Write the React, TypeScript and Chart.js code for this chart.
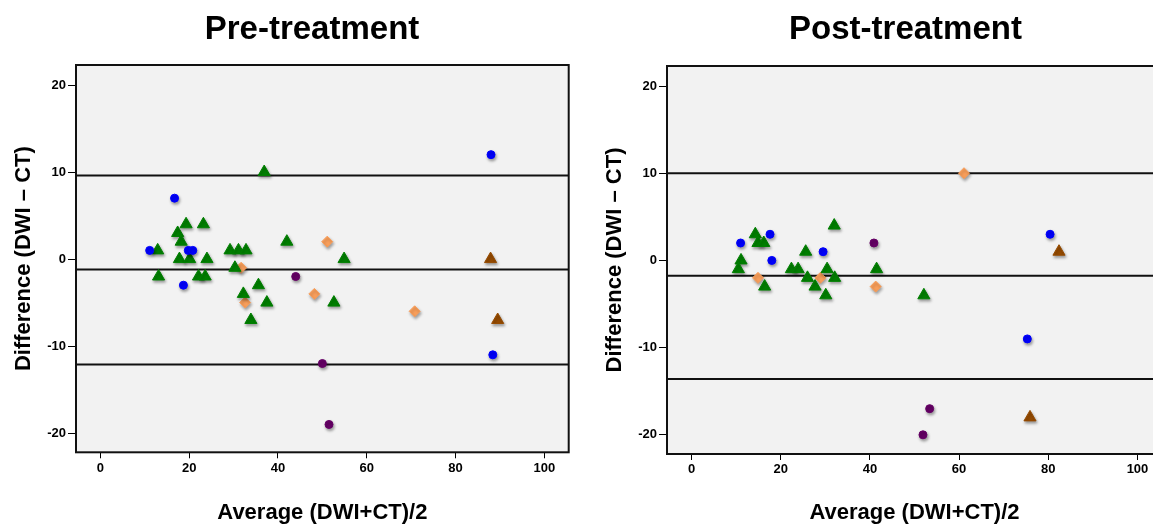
import React, { useEffect, useRef } from 'react';
import { Chart, registerables } from 'chart.js';

Chart.register(...registerables);

// ---------- axis ticks ----------
const xTicks = [0, 20, 40, 60, 80, 100];
const yTicks = [-20, -10, 0, 10, 20];
const xRange = [-5.5, 105.5];
const yRange = [-22.2, 22.3];

// ---------- Pre-treatment: [average, difference] ----------
const preBlue: number[][] = [[11.1, 1], [16.7, 7], [19.8, 1], [20.8, 1], [18.7, -3], [88, 12], [88.4, -11]];
const preGreen: number[][] = [
  [12.9, 1], [13.1, -2], [17.4, 3], [18.2, 2], [19.3, 4], [17.8, 0], [20.1, 0], [23.2, 4],
  [24.0, 0], [22.1, -2], [23.6, -2], [29.2, 1], [31.1, 1], [32.8, 1], [30.3, -1], [32.2, -4],
  [35.6, -3], [33.9, -7], [37.5, -5], [36.9, 10], [42, 2], [54.9, 0], [52.6, -5],
];
const preOrange: number[][] = [[31.7, -1], [32.6, -5], [48.2, -4], [51.1, 2], [70.8, -6]];
const prePurple: number[][] = [[44, -2], [50, -12], [51.5, -19]];
const preBrown: number[][] = [[87.9, 0], [89.5, -7]];
const preLimits = [9.6, -1.2, -12.1];

// ---------- Post-treatment ----------
const postBlue: number[][] = [[11.0, 2], [17.6, 3], [18.0, 0], [29.5, 1], [80.4, 3], [75.3, -9]];
const postGreen: number[][] = [
  [14.3, 3], [14.9, 2], [16.2, 2], [11.1, 0], [10.5, -1], [16.4, -3], [25.6, 1], [32.0, 4],
  [22.4, -1], [23.9, -1], [26.0, -2], [30.4, -1], [32.1, -2], [27.7, -3], [30.1, -4], [41.5, -1],
  [52.1, -4],
];
const postOrange: number[][] = [[14.9, -2], [28.9, -2], [41.3, -3], [61.1, 10]];
const postPurple: number[][] = [[40.9, 2], [53.4, -17], [51.9, -20]];
const postBrown: number[][] = [[82.4, 1], [75.9, -18]];
const postLimits = [10.0, -1.75, -13.6];

const FONT = "'Liberation Sans', Arial, Helvetica, sans-serif";

type Group = { pts: number[][]; color: string; style: string; radius: number };

const framePlugin = {
  id: 'frame',
  beforeDraw(chart: any) {
    const { ctx, chartArea: a } = chart;
    ctx.save();
    ctx.fillStyle = '#f2f2f2';
    ctx.fillRect(a.left, a.top, a.right - a.left, a.bottom - a.top);
    ctx.restore();
  },
  beforeDatasetDraw(chart: any, args: any) {
    const ds = chart.data.datasets[args.index];
    if (ds.showLine) return;
    const ctx = chart.ctx;
    ctx.save();
    ctx.shadowColor = 'rgba(0,0,0,0.35)';
    ctx.shadowBlur = 3;
    ctx.shadowOffsetX = 1;
    ctx.shadowOffsetY = 2;
  },
  afterDatasetDraw(chart: any, args: any) {
    const ds = chart.data.datasets[args.index];
    if (ds.showLine) return;
    chart.ctx.restore();
  },
  afterDatasetsDraw(chart: any) {
    const { ctx, chartArea: a } = chart;
    ctx.save();
    ctx.strokeStyle = '#111';
    ctx.lineWidth = 2;
    ctx.strokeRect(a.left, a.top, a.right - a.left, a.bottom - a.top);
    ctx.restore();
  },
};

function Panel(props: {
  title: string;
  left: number;
  width: number;
  padRight: number;
  chartTop: number;
  chartBottom: number;
  groups: Group[];
  limits: number[];
}) {
  const ref = useRef<HTMLCanvasElement>(null);
  useEffect(() => {
    const { title, padRight, chartTop, chartBottom, groups, limits } = props;
    const H = 524;
    const titleSize = 33;
    const titlePadTop = 10;
    const datasets: any[] = groups.map((g) => ({
      data: g.pts.map((p) => ({ x: p[0], y: p[1] })),
      backgroundColor: g.color,
      borderColor: g.color,
      pointStyle: g.style,
      pointRadius: g.radius,
      pointBorderWidth: 1,
      order: 0,
    }));
    limits.forEach((v) => {
      datasets.push({
        data: [{ x: xRange[0], y: v }, { x: xRange[1], y: v }],
        showLine: true,
        borderColor: '#111',
        borderWidth: 2,
        pointRadius: 0,
        order: 10,
      });
    });
    const chart = new Chart(ref.current as HTMLCanvasElement, {
      type: 'scatter',
      data: { datasets },
      plugins: [framePlugin],
      options: {
        animation: false,
        responsive: false,
        devicePixelRatio: 1,
        events: [],
        layout: { padding: { left: 0, right: 0, top: 0, bottom: 0 } },
        plugins: {
          legend: { display: false },
          tooltip: { enabled: false },
          title: {
            display: true,
            text: title,
            color: '#000',
            fullSize: true,
            font: { family: FONT, size: titleSize, weight: 'bold', lineHeight: 1.2 },
            padding: { top: titlePadTop, bottom: chartTop - titlePadTop - titleSize * 1.2 },
          },
        },
        scales: {
          x: {
            type: 'linear',
            min: xRange[0],
            max: xRange[1],
            border: { display: false },
            grid: { display: true, drawOnChartArea: false, drawTicks: true, tickLength: 6, color: '#000', tickWidth: 1 },
            ticks: { color: '#000', font: { family: FONT, size: 13, weight: 'bold' }, padding: 2, maxRotation: 0 },
            afterBuildTicks: (s: any) => { s.ticks = xTicks.map((v) => ({ value: v })); },
            afterFit: (s: any) => { s.height = H - chartBottom; },
            title: {
              display: true,
              text: 'Average (DWI+CT)/2',
              color: '#000',
              font: { family: FONT, size: 22, weight: 'bold', lineHeight: 1.2 },
              padding: { top: 0, bottom: -2 },
            },
          },
          y: {
            type: 'linear',
            min: yRange[0],
            max: yRange[1],
            border: { display: false },
            grid: { display: true, drawOnChartArea: false, drawTicks: true, tickLength: 8, color: '#000', tickWidth: 1 },
            ticks: { color: '#000', font: { family: FONT, size: 13, weight: 'bold' }, padding: 2 },
            afterBuildTicks: (s: any) => { s.ticks = yTicks.map((v) => ({ value: v })); },
            afterFit: (s: any) => { s.width = 76; },
            title: {
              display: true,
              text: 'Difference (DWI \u2013 CT)',
              color: '#000',
              font: { family: FONT, size: 22, weight: 'bold', lineHeight: 1.2 },
              padding: { top: 11, bottom: 0 },
            },
          },
          // empty spacer on the right so the full-width title centres like the original
          spacer: {
            type: 'linear',
            position: 'right',
            display: true,
            border: { display: false },
            grid: { display: false },
            ticks: { display: false },
            afterFit: (s: any) => { s.width = padRight; },
          },
        },
      } as any,
    });
    return () => chart.destroy();
  }, []);
  return (
    <div style={{ position: 'absolute', left: props.left, top: 0, width: props.width, height: 524 }}>
      <canvas ref={ref} width={props.width} height={524} style={{ display: 'block' }} />
    </div>
  );
}

const BLUE = '#0000ff';
const GREEN = '#008000';
const ORANGE = '#f99f5b';
const PURPLE = '#660066';
const BROWN = '#964b00';

export default function App() {
  const preGroups: Group[] = [
    { pts: preBlue, color: BLUE, style: 'circle', radius: 4 },
    { pts: preGreen, color: GREEN, style: 'triangle', radius: 7 },
    { pts: preOrange, color: ORANGE, style: 'rectRot', radius: 5.5 },
    { pts: prePurple, color: PURPLE, style: 'circle', radius: 4 },
    { pts: preBrown, color: BROWN, style: 'triangle', radius: 7 },
  ];
  const postGroups: Group[] = [
    { pts: postBlue, color: BLUE, style: 'circle', radius: 4 },
    { pts: postGreen, color: GREEN, style: 'triangle', radius: 7 },
    { pts: postOrange, color: ORANGE, style: 'rectRot', radius: 5.5 },
    { pts: postPurple, color: PURPLE, style: 'circle', radius: 4 },
    { pts: postBrown, color: BROWN, style: 'triangle', radius: 7 },
  ];
  return (
    <div style={{ position: 'fixed', left: 0, top: 0, width: 1153, height: 524, overflow: 'hidden', background: '#fff' }}>
      <Panel title="Post-treatment" left={591} width={629} padRight={58} chartTop={66} chartBottom={454} groups={postGroups} limits={postLimits} />
      <Panel title="Pre-treatment" left={0} width={624} padRight={55.3} chartTop={65} chartBottom={452.3} groups={preGroups} limits={preLimits} />
    </div>
  );
}
